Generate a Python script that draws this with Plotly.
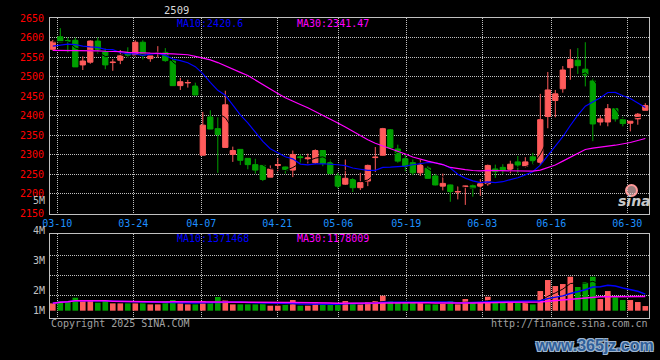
import plotly.graph_objects as go
import pandas as pd

# ---------------- data ----------------
title = "2509"
tick_labels = ["03-10", "03-24", "04-07", "04-21", "05-06", "05-19", "06-03", "06-16", "06-30"]

opens = [2570, 2602, 2592, 2593, 2530, 2537, 2591, 2563, 2536, 2542,
         2562, 2555, 2588, 2546, 2560, 2562, 2540, 2477, 2484, 2476,
         2299, 2397, 2367, 2319, 2301, 2314, 2291, 2275, 2273, 2243,
         2273, 2269, 2261, 2295, 2290, 2280, 2311, 2280, 2246, 2225,
         2237, 2216, 2233, 2293, 2299, 2364, 2315, 2290, 2280, 2254,
         2266, 2246, 2220, 2223, 2205, 2218, 2221, 2220, 2226, 2264,
         2268, 2263, 2282, 2271, 2295, 2281, 2398, 2439, 2469, 2523,
         2542, 2519, 2489, 2384, 2384, 2418, 2390, 2381, 2392, 2414]
highs = [2594, 2624, 2600, 2600, 2552, 2593, 2600, 2572, 2545, 2568,
         2575, 2593, 2593, 2553, 2578, 2573, 2544, 2497, 2492, 2485,
         2410, 2414, 2396, 2464, 2321, 2314, 2292, 2290, 2275, 2273,
         2292, 2270, 2311, 2301, 2303, 2314, 2312, 2288, 2254, 2288,
         2241, 2254, 2275, 2320, 2369, 2366, 2326, 2301, 2288, 2288,
         2271, 2252, 2252, 2224, 2220, 2221, 2224, 2238, 2275, 2275,
         2276, 2285, 2297, 2294, 2305, 2456, 2512, 2466, 2527, 2570,
         2573, 2588, 2496, 2400, 2430, 2418, 2397, 2386, 2407, 2432]
lows = [2567, 2588, 2562, 2525, 2517, 2533, 2559, 2519, 2515, 2532,
        2549, 2551, 2544, 2538, 2549, 2538, 2477, 2466, 2472, 2453,
        2299, 2366, 2254, 2319, 2282, 2274, 2263, 2252, 2233, 2243,
        2258, 2252, 2243, 2278, 2278, 2277, 2271, 2250, 2214, 2223,
        2205, 2210, 2220, 2256, 2298, 2316, 2280, 2258, 2248, 2246,
        2239, 2222, 2209, 2180, 2186, 2172, 2193, 2195, 2221, 2241,
        2252, 2253, 2253, 2268, 2274, 2274, 2368, 2396, 2459, 2492,
        2507, 2475, 2335, 2375, 2373, 2385, 2373, 2360, 2377, 2414]
closes = [2589, 2589, 2591, 2525, 2540, 2591, 2570, 2530, 2537, 2555,
          2555, 2588, 2555, 2553, 2561, 2541, 2477, 2487, 2485, 2453,
          2376, 2366, 2352, 2428, 2311, 2286, 2275, 2261, 2237, 2264,
          2275, 2261, 2301, 2293, 2292, 2311, 2278, 2252, 2220, 2240,
          2216, 2229, 2273, 2294, 2367, 2318, 2284, 2271, 2254, 2274,
          2240, 2223, 2227, 2206, 2206, 2220, 2214, 2226, 2273, 2257,
          2261, 2276, 2274, 2282, 2285, 2390, 2466, 2456, 2517, 2544,
          2528, 2504, 2379, 2392, 2418, 2392, 2380, 2386, 2404, 2426]
volumes = [607400, 800200, 799800, 1076300, 800500, 883100, 662400, 882700, 607100, 606800,
           607300, 607000, 800600, 524300, 524100, 799900, 883400, 607200, 524500, 524000,
           800100, 717900, 1132400, 883000, 524200, 523800, 524400, 523900, 718300, 414200,
           414000, 524100, 883200, 413800, 414300, 717800, 634900, 469100, 469300, 800300,
           635200, 524300, 718100, 800400, 1242100, 799700, 635100, 634800, 635300, 634700,
           524200, 523900, 718200, 800000, 524000, 966300, 717700, 800200, 1159400, 800100,
           635000, 634900, 635200, 635100, 524300, 1628400, 2539100, 2042300, 2208200, 2815400,
           1960300, 2374100, 2815200, 966100, 1628200, 1104300, 883300, 882900, 718200, 386100]
ma10_head = [2578, 2580, 2583, 2582, 2578, 2576, 2575, 2570, 2569]
ma30_head = [2567, 2567, 2567, 2567, 2566, 2566, 2566, 2565, 2565, 2564,
             2562, 2562, 2561, 2560, 2560, 2559, 2558, 2557, 2556, 2552,
             2548, 2543, 2536, 2527, 2518, 2511, 2503, 2491, 2479]
ma_text_price = ["MA10:2420.6", "MA30:2341.47"]
ma_text_vol = ["MA10:1371468", "MA30:1178009"]
vol_axis_labels = ["5M", "4M", "3M", "2M", "1M"]

# ---------------- derived ----------------
n = len(closes)
idx = list(range(n))
c = pd.Series(closes, dtype=float)
ma5 = c.rolling(5, min_periods=1).mean()
ma10 = c.rolling(10).mean()
ma10.iloc[:len(ma10_head)] = ma10_head
ma30 = c.rolling(30).mean()
ma30.iloc[:len(ma30_head)] = ma30_head
v = pd.Series(volumes, dtype=float)
vma5 = v.rolling(5, min_periods=1).mean()
vma10 = v.rolling(10, min_periods=1).mean()
vma30 = v.rolling(30, min_periods=1).mean()

# ---------------- layout helpers ----------------
W, H = 660, 360
L, R, T, B = 50, 11, 18, 42
PW, PH = W - L - R, H - T - B


def px(x):
    return (x - L) / PW


def py(y):
    return (H - B - y) / PH


UP = "#ff5b5b"
DOWN = "#00a000"
GRID = "#c0c0c0"
BORDER = "#c0c0c0"
MONO = "DejaVu Sans Mono, Liberation Mono, monospace"

bar_px0, bar_step = 52.8, 7.5
grid_px = [57.3, 133.3, 201.3, 277.3, 338.3, 406.3, 482.3, 551.3, 627.3]
tick_pos = [(g - bar_px0) / bar_step for g in grid_px]
x_range = [(L - bar_px0) / bar_step, (W - R - bar_px0) / bar_step]

vol_per_px = 82800.0
vol_base_px = 310.7
vol_top_px = 234.3
vol_range = [-(H - B - vol_base_px) * vol_per_px, (vol_base_px - vol_top_px) * vol_per_px]
vol_grid = [(vol_base_px - y) * vol_per_px for y in (255.7, 275.7, 295.7)]

vcolors = [UP if cl >= op else DOWN for op, cl in zip(opens, closes)]

fig = go.Figure()
fig.add_trace(go.Candlestick(
    x=idx, open=opens, high=highs, low=lows, close=closes,
    increasing=dict(line=dict(color=UP, width=1), fillcolor=UP),
    decreasing=dict(line=dict(color=DOWN, width=1), fillcolor=DOWN),
    whiskerwidth=0, xaxis="x", yaxis="y", hoverinfo="skip"))
fig.add_trace(go.Scatter(x=idx, y=ma5, mode="lines", line=dict(color="#000000", width=1),
                         xaxis="x", yaxis="y", hoverinfo="skip"))
fig.add_trace(go.Scatter(x=idx, y=ma10, mode="lines", line=dict(color="#0000ff", width=1.2),
                         xaxis="x", yaxis="y", hoverinfo="skip"))
fig.add_trace(go.Scatter(x=idx, y=ma30, mode="lines", line=dict(color="#ff00ff", width=1.2),
                         xaxis="x", yaxis="y", hoverinfo="skip"))

fig.add_trace(go.Bar(x=idx, y=volumes, width=0.75, marker=dict(color=vcolors, line=dict(width=0)),
                     xaxis="x2", yaxis="y2", hoverinfo="skip"))
fig.add_trace(go.Scatter(x=idx, y=vma5, mode="lines", line=dict(color="#000000", width=1),
                         xaxis="x2", yaxis="y2", hoverinfo="skip"))
fig.add_trace(go.Scatter(x=idx, y=vma10, mode="lines", line=dict(color="#0000ff", width=1.5),
                         xaxis="x2", yaxis="y2", hoverinfo="skip"))
fig.add_trace(go.Scatter(x=idx, y=vma30, mode="lines", line=dict(color="#ff00ff", width=1.5),
                         xaxis="x2", yaxis="y2", hoverinfo="skip"))

main_bottom = py(213.5)
vol_top = py(vol_top_px)

axis_common = dict(showline=True, mirror=True, linecolor=BORDER, linewidth=1,
                   showgrid=True, gridcolor=GRID, gridwidth=1, griddash="1px,1px",
                   zeroline=False, ticks="", fixedrange=True)

fig.update_layout(
    width=W, height=H, margin=dict(l=L, r=R, t=T, b=B),
    paper_bgcolor="#000000", plot_bgcolor="#000000",
    showlegend=False, hovermode=False,
    boxgap=0.3, boxgroupgap=0,
    xaxis=dict(domain=[0, 1], anchor="y", range=x_range, tickmode="array",
               tickvals=tick_pos, ticktext=tick_labels,
               tickfont=dict(family=MONO, size=10, color="#1e90ff"),
               rangeslider=dict(visible=False), **axis_common),
    yaxis=dict(domain=[main_bottom, 1], anchor="x", range=[2150, 2650], tickmode="linear",
               tick0=2150, dtick=50, tickfont=dict(family=MONO, size=10, color="#ff0000"),
               ticklabelstandoff=3, **axis_common),
    xaxis2=dict(domain=[0, 1], anchor="y2", range=x_range, tickmode="array",
                tickvals=tick_pos, showticklabels=False, **axis_common),
    yaxis2=dict(domain=[0, vol_top], anchor="x2", range=vol_range, tickmode="array",
                tickvals=vol_grid, showticklabels=False, **axis_common),
)

ann = []


def text(x, y, s, color, size=10, xanchor="left", family=MONO, **font_extra):
    ann.append(dict(x=px(x), y=py(y), xref="paper", yref="paper", text=s, showarrow=False,
                    xanchor=xanchor, yanchor="middle",
                    font=dict(family=family, size=size, color=color, **font_extra)))


text(176, 10, title, "#d8d8d8", size=10.5, xanchor="center")
text(175, 23.3, ma_text_price[0], "#0000ff")
text(295, 23.3, ma_text_price[1], "#ff00ff")
text(175, 238.5, ma_text_vol[0], "#0000ff")
text(295, 238.5, ma_text_vol[1], "#ff00ff")
for lab, y in zip(vol_axis_labels, [200.7, 230.7, 260.7, 290.0, 310.0]):
    text(46.5, y, lab, "#c0c0c0", xanchor="right")
text(49, 323.3, "Copyright 2025 SINA.COM", "#a0a0a0")
text(650, 323.3, "http://finance.sina.com.cn", "#a0a0a0", xanchor="right")
text(594, 345, "www.365jz.com", "#2f5f9a", size=16,
     family="Liberation Sans, Arial, sans-serif",
     xanchor="center", weight="bold",
     shadow="1px 1px 0 #9fb6cf, -1px -1px 0 #9fb6cf, 1px -1px 0 #9fb6cf, -1px 1px 0 #9fb6cf")
text(634, 201, "sina", "#c8c8c8", size=14, family="DejaVu Sans, sans-serif",
     xanchor="center", weight="bold", style="italic")

fig.update_layout(annotations=ann)
fig.add_shape(type="circle", xref="paper", yref="paper",
              x0=px(626), x1=px(637), y0=py(196), y1=py(185),
              line=dict(color="#ff9a9a", width=2), fillcolor="rgba(255,210,210,0.6)")

fig.write_html("out.html",
               config={"displayModeBar": False, "staticPlot": True},
               post_script="document.body.style.margin='0';document.body.style.padding='0';"
                           "document.body.style.background='#000';"
                           "document.documentElement.style.background='#000';"
                           "document.body.style.overflow='hidden';")
